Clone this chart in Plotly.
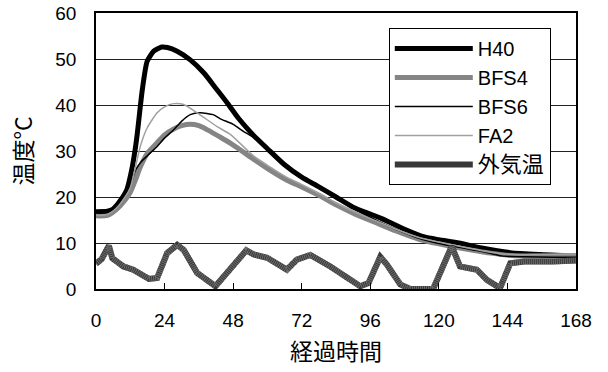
import plotly.graph_objects as go

# ---- data ----
h40_t = [0, 4, 6, 8, 10.8, 12.5, 13.7, 14.4, 15.3, 16.2, 17.9, 20.2, 23, 25, 28.4, 33, 37.7, 42, 46, 50, 55,
         60, 66, 72, 78, 84, 90, 96, 100, 108, 115, 120, 127, 135, 145, 155, 168]
h40_v = [16.8, 16.9, 17.4, 18.8, 21.6, 25.9, 30.3, 33.5, 38.5, 43.3, 49.5, 51.7, 52.6, 52.5, 51.7, 49.8, 47, 43.6,
         40.4, 37, 33.5, 30.5, 27, 24.3, 22.2, 20, 17.8, 16.3, 15.3, 13, 11.3, 10.7, 10, 8.9, 7.9, 7.5, 7.2]

bfs4_t = [0, 4, 7, 10, 12, 14, 15.5, 18, 21.4, 24, 27.2, 30, 33, 36, 39, 43.5, 47, 55, 61, 67, 72, 78.5, 84,
          90, 98, 105, 113, 120, 131, 138, 145, 155, 168]
bfs4_v = [15.9, 16.0, 17.2, 19.2, 21, 24, 26.5, 29.5, 31.8, 33.5, 34.8, 35.5, 35.8, 35.5, 34.6, 33.0, 31.7, 28.3,
          25.8, 23.6, 22.2, 20.2, 18.3, 16.5, 14.4, 12.6, 10.8, 9.8, 8.5, 7.8, 7.3, 7.2, 7.3]

bfs6_t = [0, 4, 7, 10, 12, 14, 15.6, 18, 21.4, 24, 27.2, 30, 33, 36.5, 41, 43.5, 48, 51.7, 55, 60, 66, 72, 78,
          84, 90, 96, 102, 108, 114, 120, 126, 132, 137, 142, 150, 160, 168]
bfs6_v = [16.5, 16.6, 17.8, 20.5, 22.5, 26, 27.5, 29, 31, 32.8, 34.6, 36.5, 37.9, 38.3, 37.9, 37, 35.8, 34.2,
          33.0, 30.2, 26.8, 24.1, 22, 19.8, 17.5, 15.6, 13.8, 12.2, 10.8, 9.9, 9.2, 8.5, 7.9, 7.2, 7.0, 6.9, 6.9]

fa2_t = [0, 4, 7, 10, 12, 14, 15.5, 17.9, 21.4, 24, 27.2, 30.7, 35.4, 42.4, 47, 55, 61, 67, 72, 78.5, 84, 90,
         98, 105, 113, 120, 131, 138, 145, 155, 168]
fa2_v = [16.0, 16.2, 17.5, 19.8, 22, 27, 31, 35, 38.3, 39.6, 40.3, 40.1, 38.3, 35.3, 33.6, 29.0, 26.5, 24.2,
         22.7, 20.6, 18.7, 16.9, 14.8, 13.0, 11.2, 10.2, 8.8, 8.0, 7.5, 7.5, 7.6]

out_t = [0, 2, 4.5, 5.7, 9.6, 13, 18.5, 21.4, 24.9, 28.4, 30.7, 35.4, 41.8, 47, 52.6, 55.2, 59.9, 66.8, 70.3,
         75, 82, 92.5, 95.4, 99.5, 101.8, 106.5, 110, 118, 122.8, 124.5, 127.4, 133.3, 136.8, 141.4, 145, 150,
         160, 168]
out_v = [5.5, 6.5, 9.4, 6.7, 4.9, 4.2, 2.2, 2.4, 7.8, 9.6, 8.5, 3.5, 0.6, 4.2, 8.4, 7.5, 6.8, 4.2, 6.4, 7.4,
         4.9, 0.6, 1.3, 7.0, 5.3, 1.0, 0, 0, 7.0, 9.3, 4.9, 4.2, 2.0, 0.2, 5.6, 6.0, 6.0, 6.2]

x_ticks = [0, 24, 48, 72, 96, 120, 144, 168]
y_ticks = [0, 10, 20, 30, 40, 50, 60]

names = ["H40", "BFS4", "BFS6", "FA2", "<span style='font-size:22px'>外気温</span>"]
x_title = "経過時間"
y_title = "温度°C"

LAT = "Arial, 'Liberation Sans', 'Noto Sans CJK JP', sans-serif"
CJK = "'Noto Sans CJK JP', sans-serif"

fig = go.Figure()
fig.add_trace(go.Scatter(x=h40_t, y=h40_v, mode="lines", name=names[0],
                         line=dict(color="#000000", width=5, shape="spline", smoothing=0.6)))
fig.add_trace(go.Scatter(x=bfs4_t, y=bfs4_v, mode="lines", name=names[1],
                         line=dict(color="#858585", width=5, shape="spline", smoothing=0.6)))
fig.add_trace(go.Scatter(x=bfs6_t, y=bfs6_v, mode="lines", name=names[2],
                         line=dict(color="#000000", width=1.5, shape="spline", smoothing=0.6)))
fig.add_trace(go.Scatter(x=fa2_t, y=fa2_v, mode="lines", name=names[3],
                         line=dict(color="#a0a0a0", width=1.5, shape="spline", smoothing=0.6)))
fig.add_trace(go.Scatter(x=out_t, y=out_v, mode="lines", name=names[4],
                         line=dict(color="#383838", width=6)))
fig.add_trace(go.Scatter(x=out_t, y=out_v, mode="lines", showlegend=False, hoverinfo="skip",
                         line=dict(color="#6e6e6e", width=6, dash="1px,1px")))

fig.update_layout(
    width=608, height=372,
    margin=dict(l=96, r=32, t=13, b=83, autoexpand=False),
    paper_bgcolor="white", plot_bgcolor="white",
    font=dict(family=LAT, size=19, color="black"),
    showlegend=True,
    legend=dict(x=0.61, y=0.946, xanchor="left", yanchor="top",
                bgcolor="white", bordercolor="black", borderwidth=1,
                font=dict(family=LAT, size=20, color="black"),
                itemwidth=78, tracegroupgap=0),
)
fig.update_xaxes(range=[0, 168], tickvals=x_ticks, ticks="inside", ticklen=6, tickcolor="black",
                 tickwidth=1, showline=True, linecolor="black", linewidth=2, mirror=True,
                 showgrid=False, zeroline=False, ticklabelstandoff=13, automargin=False,
                 tickfont=dict(family=LAT, size=19),
                 title=dict(text=x_title, font=dict(family=CJK, size=23), standoff=14))
fig.update_yaxes(range=[0, 60], tickvals=y_ticks, ticks="", showline=True, linecolor="black",
                 linewidth=1.5, mirror=True, showgrid=True, gridcolor="#222222", gridwidth=1,
                 zeroline=False, ticklabelstandoff=14, automargin=False,
                 tickfont=dict(family=LAT, size=19),
                 title=dict(text=y_title, font=dict(family=CJK, size=23), standoff=16))

fig.write_html("out.html")
